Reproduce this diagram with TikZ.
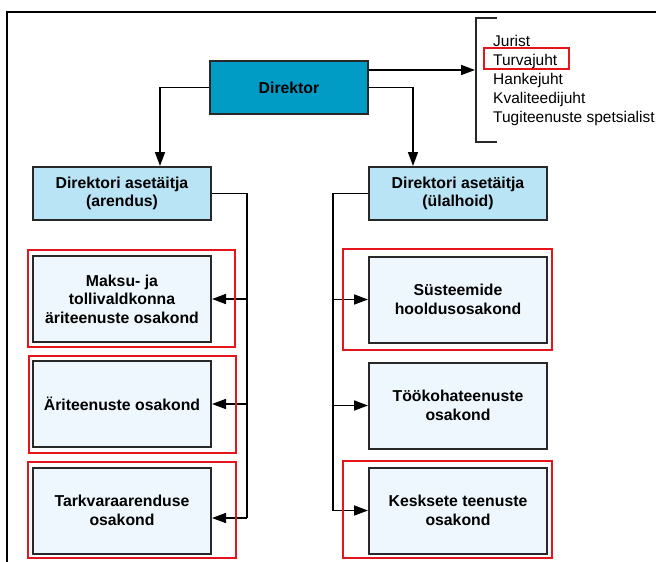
\documentclass[tikz,border=0pt]{standalone}
\usepackage{fontspec}
\setmainfont{Liberation Sans}
\usetikzlibrary{arrows.meta}
\definecolor{dirblue}{RGB}{0,156,198}
\definecolor{depblue}{RGB}{184,228,245}
\definecolor{unitfill}{RGB}{238,247,253}
\definecolor{edgegray}{RGB}{40,40,40}
\definecolor{hlred}{RGB}{232,20,28}
\tikzset{
  boxbase/.style={draw=edgegray, line width=2pt, align=center, inner sep=2pt,
    font=\fontsize{15.8}{18.5}\selectfont\bfseries, text=black},
  headbox/.style={boxbase, fill=dirblue, minimum width=158pt, minimum height=53pt},
  deputybox/.style={boxbase, fill=depblue, minimum width=178pt, minimum height=53pt},
  unitbox/.style={boxbase, fill=unitfill, minimum width=178pt, minimum height=86pt},
  link/.style={line width=1.6pt, draw=black},
  arr/.style={link, -{Triangle[length=14pt,width=10pt]}},
  staff/.style={anchor=base west, inner sep=0pt, font=\fontsize{15.5}{19}\selectfont},
  hlframe/.style={draw=hlred, line width=2.8pt},
}
\begin{document}
\begin{tikzpicture}[x=1pt,y=-1pt]
\useasboundingbox (0,0) rectangle (656,562);
\fill[white] (0,0) rectangle (656,562);
% outer frame
\draw[line width=2.2pt] (7,563) -- (7,12) -- (657,12);

% director and deputies
\node[headbox] (dir) at (289,87.5) {Direktor};
\node[deputybox] (dA) at (122,193.5) {Direktori asetäitja\\(arendus)};
\node[deputybox] (dB) at (458,193.5) {Direktori asetäitja\\(ülalhoid)};

% departments
\node[unitbox] (l1) at (122,299) {Maksu- ja\\tollivaldkonna\\äriteenuste osakond};
\node[unitbox] (l2) at (122,404) {Äriteenuste osakond};
\node[unitbox] (l3) at (122,510.5) {Tarkvaraarenduse\\osakond};
\node[unitbox] (r1) at (458,299.5) {Süsteemide\\hooldusosakond};
\node[unitbox] (r2) at (458,405.5) {Töökohateenuste\\osakond};
\node[unitbox] (r3) at (458,510.5) {Kesksete teenuste\\osakond};

% staff list with bracket
\node[staff] (s1) at (493,46) {Jurist};
\node[staff] (s2) at (493,65) {Turvajuht};
\node[staff] (s3) at (493,84) {Hankejuht};
\node[staff] (s4) at (493,103) {Kvaliteedijuht};
\node[staff] (s5) at (493,122) {Tugiteenuste spetsialist};
\coordinate (br) at (475,70);
\draw[line width=2pt, draw=edgegray] (497,18) -- (476,18) -- (476,142) -- (497,142);

% director connectors
\draw[arr] ([yshift=17.5pt]dir.east) -- (br);
\draw[arr] (dir.west) -| ([xshift=38pt]dA.north);
\draw[arr] (dir.east) -| ([xshift=-45pt]dB.north);

% development branch
\coordinate (lt) at (247,193.5);
\draw[link] (dA.east) -- (lt) -- (lt |- 0,518);
\draw[arr] (lt |- l1.east) -- (l1.east);
\draw[arr] (lt |- l2.east) -- (l2.east);
\draw[arr] (lt |- 0,518) -- (l3.east |- 0,518);

% maintenance branch
\coordinate (rt) at (333,193.5);
\draw[link] (dB.west) -- (rt) -- (rt |- r3.west);
\draw[arr] (rt |- r1.west) -- (r1.west);
\draw[arr] (rt |- r2.west) -- (r2.west);
\draw[arr] (rt |- r3.west) -- (r3.west);

% highlight frames
\draw[hlframe] (484,48) rectangle (569,69);
\draw[hlframe] (28,250) rectangle (235,347);
\draw[hlframe] (29,356) rectangle (236,453);
\draw[hlframe] (28,462) rectangle (236,558);
\draw[hlframe] (343,249) rectangle (552,350);
\draw[hlframe] (343,461) rectangle (552,558);
\end{tikzpicture}
\end{document}
